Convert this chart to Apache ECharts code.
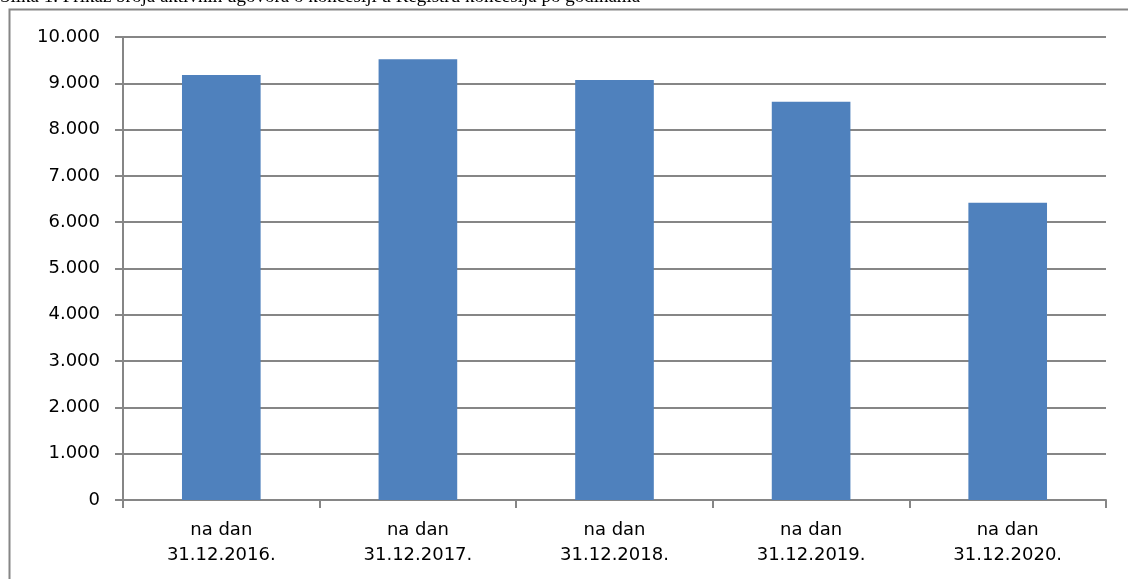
<!DOCTYPE html>
<html><head><meta charset="utf-8">
<script src="https://cdn.jsdelivr.net/npm/echarts@6/dist/echarts.min.js"></script>
<style>html,body{margin:0;padding:0;background:#fff;}#c{width:1128px;height:579px;}</style>
</head><body><div id="c"></div>
<script>
const titleText = 'Slika 1. Prikaz broja aktivnih ugovora o koncesiji u Registru koncesija po godinama';
const categories = ['na dan\n31.12.2016.', 'na dan\n31.12.2017.', 'na dan\n31.12.2018.', 'na dan\n31.12.2019.', 'na dan\n31.12.2020.'];
const values = [9180, 9520, 9070, 8600, 6420];
const yTicks = { min: 0, max: 10000, interval: 1000 };

const chart = echarts.init(document.getElementById('c'), null, { renderer: 'canvas' });
const gray = '#868686';
chart.setOption({
  animation: false,
  backgroundColor: '#fff',
  graphic: [
    { type: 'rect', left: 7, top: 7, shape: { x: 0, y: 0, width: 1300, height: 700 },
      style: { fill: 'none', stroke: gray, lineWidth: 2 }, z: 10 },
    { type: 'text', x: 0, y: 7, z: 9,
      style: { text: titleText, font: '19px "Liberation Serif", serif', fill: '#000', verticalAlign: 'bottom', align: 'left' } }
  ],
  grid: { left: 123, right: 22, top: 37, bottom: 79 },
  xAxis: {
    type: 'category', data: categories,
    axisLine: { lineStyle: { color: gray, width: 2 } },
    axisTick: { show: true, length: 8, lineStyle: { color: gray, width: 2 } },
    axisLabel: { color: '#000', fontFamily: '"DejaVu Sans", Verdana, sans-serif', fontSize: 18, lineHeight: 25, margin: 18 }
  },
  yAxis: {
    type: 'value', min: yTicks.min, max: yTicks.max, interval: yTicks.interval,
    axisLine: { show: true, lineStyle: { color: gray, width: 2 } },
    axisTick: { show: true, length: 8, lineStyle: { color: gray, width: 2 } },
    splitLine: { show: true, lineStyle: { color: gray, width: 2 } },
    axisLabel: { color: '#000', fontFamily: '"DejaVu Sans", Verdana, sans-serif', fontSize: 18, margin: 23,
      formatter: v => v === 0 ? '0' : v.toLocaleString('de-DE') }
  },
  series: [{
    type: 'bar', data: values, barWidth: '40%',
    itemStyle: { color: '#4f81bd' }
  }]
});
</script></body></html>
